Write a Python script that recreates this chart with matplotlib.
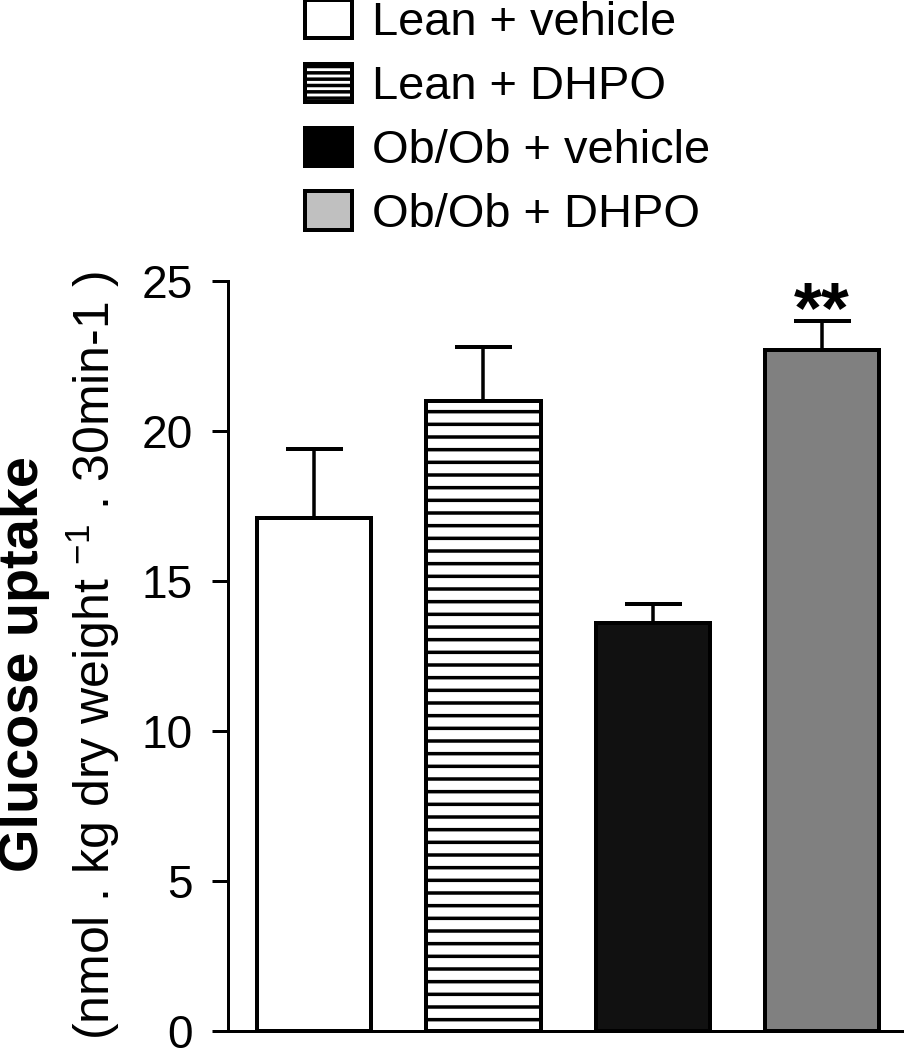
import matplotlib
matplotlib.use("Agg")
import matplotlib.pyplot as plt
from matplotlib.patches import Patch
import numpy as np

# data
groups = ["Lean + vehicle", "Lean + DHPO", "Ob/Ob + vehicle", "Ob/Ob + DHPO"]
uptake = [17.1, 21.0, 13.6, 22.7]
sem = [2.3, 1.8, 0.65, 0.97]
signif = ["", "", "", "**"]
bar_colors = ["white", "white", "#111111", "#808080"]
legend_colors = ["white", "white", "black", "#c0c0c0"]
hatches = ["", "-", "", ""]
legend_hatches = ["", "--", "", ""]
yticks = [0, 5, 10, 15, 20, 25]

DPI = 76


def pt(px):
    # pixel size -> points at the output dpi
    return px * 72.0 / DPI


plt.rcParams["font.family"] = ["Liberation Sans", "DejaVu Sans"]
plt.rcParams["mathtext.fontset"] = "custom"
plt.rcParams["mathtext.rm"] = "Liberation Sans"
plt.rcParams["mathtext.default"] = "regular"
plt.rcParams["hatch.linewidth"] = pt(3.5)
plt.rcParams["hatch.color"] = "black"

fig = plt.figure(figsize=(904 / DPI, 1050 / DPI), dpi=DPI)
ax = fig.add_axes([228 / 904, 19 / 1050, 676 / 904, 750 / 1050])

x = np.arange(len(groups))
ax.bar(x, uptake, width=0.675, color=bar_colors, edgecolor="black",
       linewidth=pt(4), hatch=hatches, zorder=2)
ax.errorbar(x, uptake, yerr=[np.zeros(len(sem)), sem], fmt="none",
            ecolor="black", elinewidth=pt(3.5), capsize=pt(28.5),
            capthick=pt(4), zorder=1)

for xi, v, e, s in zip(x, uptake, sem, signif):
    if s:
        ax.annotate(s, xy=(xi, v + e), xytext=(0, pt(-11)),
                    textcoords="offset points", ha="center", va="baseline",
                    fontsize=pt(72), fontweight="bold")

ax.set_xlim(-0.509, 3.485)
ax.set_ylim(0, 25)
ax.set_yticks(yticks)
ax.set_xticks([])
ax.spines["top"].set_visible(False)
ax.spines["right"].set_visible(False)
ax.spines["left"].set_linewidth(pt(3))
ax.spines["bottom"].set_linewidth(pt(3))
ax.tick_params(axis="y", direction="out", length=pt(16), width=pt(3),
               pad=pt(19), labelsize=pt(46))

# y label, two lines with different weight
fig.text(38 / 904, 1 - 664 / 1050, "Glucose uptake", rotation=90,
         rotation_mode="anchor", ha="center", va="baseline",
         fontsize=pt(56), fontweight="bold")
fig.text(110 / 904, 1 - 656 / 1050,
         r"(nmol . kg dry weight $^{-1}$ . 30min-1 )", rotation=90,
         rotation_mode="anchor", ha="center", va="baseline",
         fontsize=pt(50))

handles = [Patch(facecolor=c, edgecolor="black", linewidth=pt(4), hatch=h)
           for c, h in zip(legend_colors, legend_hatches)]
fig.legend(handles, groups, loc="upper left", bbox_to_anchor=(305 / 904, 1.0),
           frameon=False, fontsize=pt(47), handlelength=1.0,
           handleheight=0.88, handletextpad=0.42, labelspacing=0.39,
           borderpad=0, borderaxespad=0)

fig.savefig("out.png", dpi=DPI)
